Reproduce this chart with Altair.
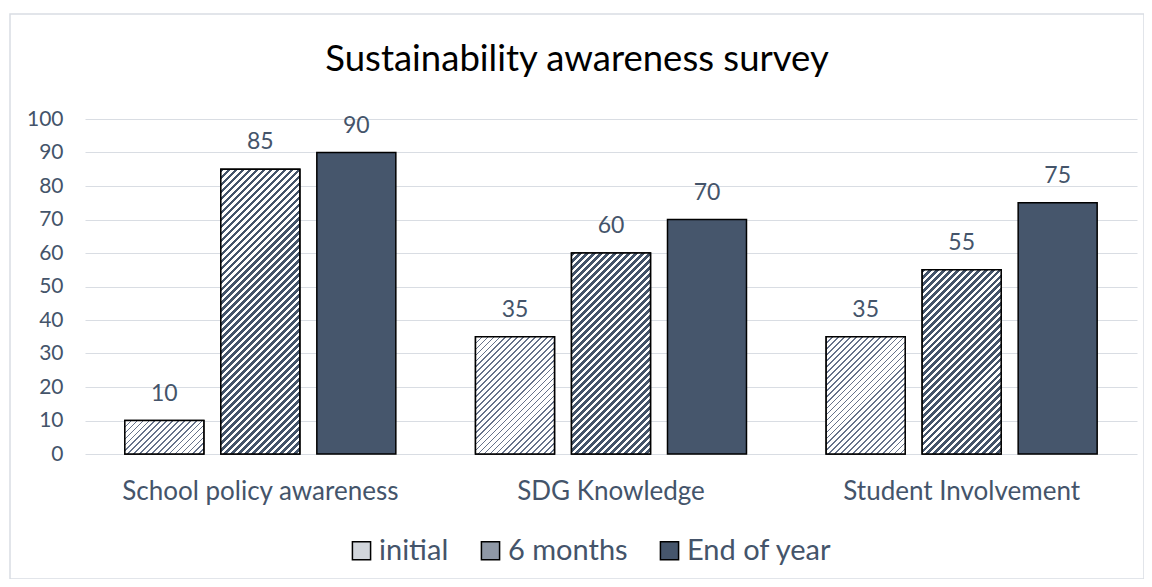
import altair as alt
import pandas as pd

categories = ["School policy awareness", "SDG Knowledge", "Student Involvement"]
series = ["initial", "6 months", "End of year"]
initial_vals = [10, 35, 35]
six_month_vals = [85, 60, 55]
end_year_vals = [90, 70, 75]
y_ticks = list(range(0, 101, 10))

rows = []
for s, vals in zip(series, [initial_vals, six_month_vals, end_year_vals]):
    for c, v in zip(categories, vals):
        rows.append({"category": c, "series": s, "value": v})
df = pd.DataFrame(rows)

TEXT = "#44546A"
FONT = "Lato"
colors = ["#d2d6dc", "#8f98a6", "#46566c"]

PLOT_W, PLOT_H = 1052, 335
BAR_W = 79.0


def hatch(w, h, period, dark_frac, dark, light):
    """Diagonal (45 deg, rising) stripe fill for a box of w x h pixels."""
    k = (w + h) / (w * w + h * h)
    n = max(1, int(round((w + h) / period)))
    stops = []
    for i in range(n):
        a = i / n
        b = (i + dark_frac) / n
        c = (i + 1) / n
        stops += [
            alt.GradientStop(offset=a, color=dark),
            alt.GradientStop(offset=b, color=dark),
            alt.GradientStop(offset=b, color=light),
            alt.GradientStop(offset=c, color=light),
        ]
    return alt.LinearGradient(gradient="linear", stops=stops,
                              x1=0, y1=0, x2=k * w, y2=k * h)


x_enc = alt.X("category:N", sort=categories, title=None,
              scale=alt.Scale(paddingInner=0, paddingOuter=0),
              axis=alt.Axis(labelAngle=0, labelFontSize=26, labelColor=TEXT, labelFont=FONT,
                            labelPadding=24, ticks=False, domain=False, labelLimit=0))
xo_enc = alt.XOffset("series:N", sort=series,
                     scale=alt.Scale(paddingInner=0.177, paddingOuter=0.415))
y_enc = alt.Y("value:Q", title=None, scale=alt.Scale(domain=[0, 100], nice=False),
              axis=alt.Axis(values=y_ticks, labelFontSize=21, labelColor=TEXT, labelFont=FONT,
                            labelPadding=22, ticks=False, domain=False,
                            gridColor="#d9dde3", gridWidth=1.2))

base = alt.Chart(df).encode(x=x_enc, xOffset=xo_enc, y=y_enc)

bars = base.mark_bar(stroke="black", strokeWidth=1.5).encode(
    color=alt.Color("series:N", sort=series,
                    scale=alt.Scale(domain=series, range=colors),
                    legend=alt.Legend(title=None, orient="none", direction="horizontal",
                                      legendX=262, legendY=417,
                                      labelFontSize=29, labelColor=TEXT, labelFont=FONT,
                                      symbolType="square", symbolSize=330,
                                      symbolStrokeColor="black", symbolStrokeWidth=1.5,
                                      columnPadding=27, labelOffset=3))
)

hatch_styles = {
    "initial": dict(period=6.0, dark_frac=0.28, dark="#66728a", light="#ffffff"),
    "6 months": dict(period=7.0, dark_frac=0.55, dark="#44546A", light="#ffffff"),
}

hatch_layers = []
for s, vals in zip(series, [initial_vals, six_month_vals, end_year_vals]):
    if s not in hatch_styles:
        continue
    for c, v in zip(categories, vals):
        h = v * PLOT_H / 100.0
        grad = hatch(BAR_W, h, **hatch_styles[s])
        layer = base.transform_filter(
            (alt.datum.series == s) & (alt.datum.category == c)
        ).mark_bar(fill=grad, stroke="black", strokeWidth=1.5)
        hatch_layers.append(layer)

labels = base.mark_text(baseline="middle", dy=-27, fontSize=23, color=TEXT, font=FONT).encode(
    text=alt.Text("value:Q")
)

frame = alt.Chart(pd.DataFrame({"a": [0]})).mark_rect(
    fill=None, stroke="#d9dde3", strokeWidth=1.5, clip=False
).encode(x=alt.value(-75), x2=alt.value(1059), y=alt.value(-105), y2=alt.value(460))

chart = alt.layer(frame, bars, *hatch_layers, labels).properties(
    width=PLOT_W, height=PLOT_H,
    autosize=alt.AutoSizeParams(type="none"),
    padding={"left": 77, "top": 111, "right": 7, "bottom": 125},
    title=alt.Title("Sustainability awareness survey", fontSize=36.5, font=FONT,
                    fontWeight="normal", color="black", anchor="middle",
                    frame="bounds", baseline="alphabetic", offset=0, dy=94),
).configure_view(stroke=None)

chart.save("out.html", embed_options={"renderer": "svg", "actions": False})
